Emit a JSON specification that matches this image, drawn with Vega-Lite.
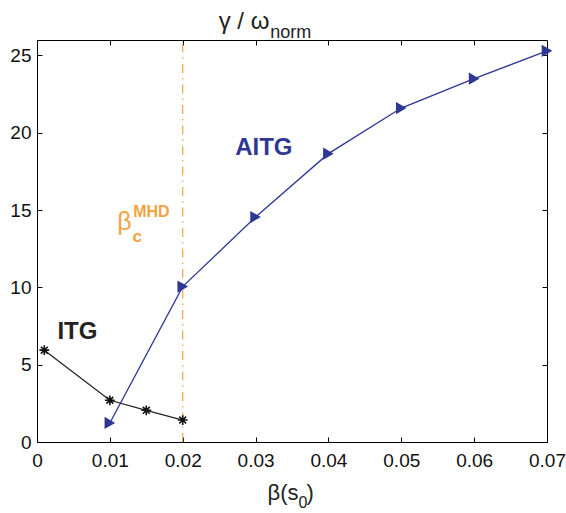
{
  "$schema": "https://vega.github.io/schema/vega-lite/v6.json",
  "width": 510,
  "height": 402,
  "autosize": "none",
  "padding": {"left": 37, "top": 40, "right": 19, "bottom": 71},
  "background": "white",
  "config": {
    "view": {"stroke": "black", "strokeWidth": 1},
    "font": "Liberation Sans",
    "axis": {"grid": false, "domainColor": "black", "tickColor": "black", "labelColor": "#111111", "labelFont": "Liberation Sans", "labelFontSize": 19, "tickSize": 5, "domainWidth": 1, "title": null}
  },
  "data": {"values": [
      {"series": "ITG", "beta": 0.001, "gamma": 5.94},
      {"series": "ITG", "beta": 0.01, "gamma": 2.7},
      {"series": "ITG", "beta": 0.015, "gamma": 2.05},
      {"series": "ITG", "beta": 0.02, "gamma": 1.42},
      {"series": "AITG", "beta": 0.01, "gamma": 1.23},
      {"series": "AITG", "beta": 0.02, "gamma": 10.05},
      {"series": "AITG", "beta": 0.03, "gamma": 14.55},
      {"series": "AITG", "beta": 0.04, "gamma": 18.65},
      {"series": "AITG", "beta": 0.05, "gamma": 21.6},
      {"series": "AITG", "beta": 0.06, "gamma": 23.5},
      {"series": "AITG", "beta": 0.07, "gamma": 25.3}
  ]},
  "encoding": {
    "x": {"field": "beta", "type": "quantitative", "scale": {"domain": [0, 0.07], "nice": false, "zero": false}, "axis": null},
    "y": {"field": "gamma", "type": "quantitative", "scale": {"domain": [0, 26], "nice": false}, "axis": null}
  },
  "layer": [
    {
      "transform": [{"filter": "datum.beta == 0.001"}],
      "mark": {"type": "rule", "color": "#F2A444", "strokeWidth": 1.2, "strokeDash": [9, 5, 1.5, 5]},
      "encoding": {"x": {"datum": 0.02, "axis": null}, "y": {"datum": 0, "axis": null}, "y2": {"datum": 26}}
    },
    {
      "transform": [{"filter": "datum.series == 'ITG'"}],
      "mark": {"type": "line", "color": "#222222", "strokeWidth": 1.3},
      "encoding": {
        "x": {"field": "beta", "type": "quantitative", "axis": {"orient": "bottom", "values": [0, 0.01, 0.02, 0.03, 0.04, 0.05, 0.06, 0.07], "labelExpr": "datum.value == 0 ? '0' : format(datum.value, '.2f')", "labelPadding": 9, "labelFlush": false, "ticks": false, "domain": true}},
        "y": {"field": "gamma", "type": "quantitative", "axis": {"orient": "left", "values": [0, 5, 10, 15, 20, 25], "labelPadding": 6, "ticks": false, "domain": true}}
      }
    },
    {
      "transform": [{"filter": "datum.series == 'ITG'"}],
      "mark": {"type": "point", "shape": "M -1 0 L 1 0 M 0 -1 L 0 1 M -0.7 -0.7 L 0.7 0.7 M -0.7 0.7 L 0.7 -0.7", "stroke": "#111111", "strokeWidth": 1.6, "size": 95, "opacity": 1},
      "encoding": {
        "x": {"field": "beta", "type": "quantitative", "axis": {"orient": "top", "offset": -402, "values": [0.01, 0.02, 0.03, 0.04, 0.05, 0.06], "labels": false, "ticks": true, "domain": false}},
        "y": {"field": "gamma", "type": "quantitative", "axis": {"orient": "right", "offset": -510, "values": [5, 10, 15, 20, 25], "labels": false, "ticks": true, "domain": false}}
      }
    },
    {
      "transform": [{"filter": "datum.series == 'AITG'"}],
      "mark": {"type": "line", "color": "#2F3795", "strokeWidth": 1.3},
      "encoding": {
        "x": {"field": "beta", "type": "quantitative", "axis": {"orient": "bottom", "offset": -402, "values": [0.01, 0.02, 0.03, 0.04, 0.05, 0.06], "labels": false, "ticks": true, "domain": false}},
        "y": {"field": "gamma", "type": "quantitative", "axis": {"orient": "left", "offset": -510, "values": [5, 10, 15, 20, 25], "labels": false, "ticks": true, "domain": false}}
      }
    },
    {
      "transform": [{"filter": "datum.series == 'AITG'"}],
      "mark": {"type": "point", "shape": "triangle-right", "filled": true, "color": "#2F3795", "size": 150, "opacity": 1}
    },
    {
      "transform": [{"filter": "datum.beta == 0.001"}],
      "mark": {"type": "text", "text": "AITG", "font": "Liberation Sans", "fontWeight": "bold", "fontSize": 24, "color": "#2F3795", "align": "left", "baseline": "alphabetic"},
      "encoding": {"x": {"datum": 0.0272, "axis": null}, "y": {"datum": 18.54, "axis": null}}
    },
    {
      "transform": [{"filter": "datum.beta == 0.001"}],
      "mark": {"type": "text", "text": "ITG", "font": "Liberation Sans", "fontWeight": "bold", "fontSize": 24, "color": "#222222", "align": "left", "baseline": "alphabetic"},
      "encoding": {"x": {"datum": 0.0028, "axis": null}, "y": {"datum": 6.65, "axis": null}}
    },
    {
      "transform": [{"filter": "datum.beta == 0.001"}],
      "mark": {"type": "text", "text": "β", "font": "Liberation Sans", "fontSize": 25, "color": "#F2A444", "align": "left", "baseline": "alphabetic"},
      "encoding": {"x": {"datum": 0.011, "axis": null}, "y": {"datum": 13.7, "axis": null}}
    },
    {
      "transform": [{"filter": "datum.beta == 0.001"}],
      "mark": {"type": "text", "text": "c", "font": "Liberation Sans", "fontWeight": "bold", "fontSize": 17, "color": "#F2A444", "align": "left", "baseline": "alphabetic"},
      "encoding": {"x": {"datum": 0.0131, "axis": null}, "y": {"datum": 12.92, "axis": null}}
    },
    {
      "transform": [{"filter": "datum.beta == 0.001"}],
      "mark": {"type": "text", "text": "MHD", "font": "Liberation Sans", "fontWeight": "bold", "fontSize": 16, "color": "#F2A444", "align": "left", "baseline": "alphabetic"},
      "encoding": {"x": {"datum": 0.0132, "axis": null}, "y": {"datum": 14.53, "axis": null}}
    },
    {
      "transform": [{"filter": "datum.beta == 0.001"}],
      "mark": {"type": "text", "text": "γ  / ω", "font": "Liberation Sans", "fontSize": 24, "color": "#222222", "align": "right", "baseline": "alphabetic"},
      "encoding": {"x": {"datum": 0.0319, "axis": null}, "y": {"datum": 26.74, "axis": null}}
    },
    {
      "transform": [{"filter": "datum.beta == 0.001"}],
      "mark": {"type": "text", "text": "norm", "font": "Liberation Sans", "fontSize": 18, "color": "#222222", "align": "left", "baseline": "alphabetic"},
      "encoding": {"x": {"datum": 0.032, "axis": null}, "y": {"datum": 26.16, "axis": null}}
    },
    {
      "transform": [{"filter": "datum.beta == 0.001"}],
      "mark": {"type": "text", "text": "β(s", "font": "Liberation Sans", "fontSize": 22, "color": "#222222", "align": "right", "baseline": "alphabetic"},
      "encoding": {"x": {"datum": 0.0359, "axis": null}, "y": {"datum": -3.75, "axis": null}}
    },
    {
      "transform": [{"filter": "datum.beta == 0.001"}],
      "mark": {"type": "text", "text": "0", "font": "Liberation Sans", "fontSize": 16, "color": "#222222", "align": "left", "baseline": "alphabetic"},
      "encoding": {"x": {"datum": 0.0359, "axis": null}, "y": {"datum": -4.3, "axis": null}}
    },
    {
      "transform": [{"filter": "datum.beta == 0.001"}],
      "mark": {"type": "text", "text": ")", "font": "Liberation Sans", "fontSize": 22, "color": "#222222", "align": "left", "baseline": "alphabetic"},
      "encoding": {"x": {"datum": 0.037, "axis": null}, "y": {"datum": -3.75, "axis": null}}
    }
  ]
}
